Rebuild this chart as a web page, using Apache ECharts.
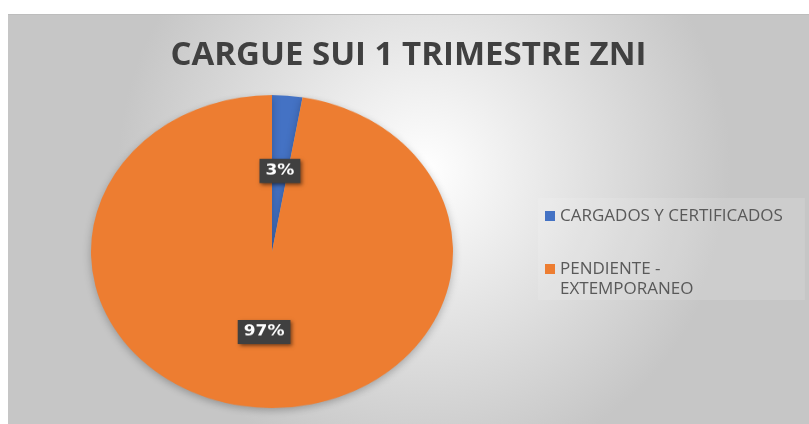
<!DOCTYPE html>
<html>
<head>
<meta charset="utf-8">
<script src="https://cdn.jsdelivr.net/npm/echarts@6/dist/echarts.min.js"></script>
<style>
  html, body { margin: 0; padding: 0; background: #fff; }
  #frame { position: absolute; left: 8px; top: 14px; width: 801px; height: 410px; border-top: 1px solid #bdbdbd; box-sizing: border-box; }
  #pie { position: absolute; left: 0; top: 0; width: 809px; height: 490px; transform: scaleY(0.8646); transform-origin: 0 0; }
</style>
</head>
<body>
<div id="frame"></div>
<div id="pie"></div>
<script>
var titleText = 'CARGUE SUI 1 TRIMESTRE ZNI'
var categories = ['CARGADOS Y CERTIFICADOS', 'PENDIENTE - EXTEMPORANEO']
var values = [1, 36]
var colors = ['#4472C4', '#ED7D31']

var pieData = categories.map(function (name, i) {
    return { name: name, value: values[i], itemStyle: { color: colors[i] } }
})

// fondo, titulo y leyenda
const frameChart = echarts.init(document.getElementById('frame'))
frameChart.setOption({
    backgroundColor: {
        type: 'radial', x: 0.52, y: 0.38, r: 0.75,
        colorStops: [{ offset: 0, color: '#ffffff' }, { offset: 1, color: '#c6c6c6' }]
    },
    title: {
        text: titleText,
        left: 'center',
        top: 19,
        textStyle: { fontFamily: 'Open Sans', fontWeight: 'bold', fontSize: 33, color: '#404040' }
    },
    legend: {
        orient: 'vertical',
        left: 530,
        top: 183,
        padding: [8, 22, 1, 7],
        backgroundColor: 'rgba(255,255,255,0.12)',
        icon: 'rect',
        itemWidth: 10,
        itemHeight: 10,
        itemGap: 13,
        data: categories,
        formatter: function (name) {
            // el segundo nombre va partido en dos renglones, el primero alineado con el cuadrito
            return name.indexOf(' - ') > 0 ? '\n' + name.replace(' - ', ' -\n') : name
        },
        textStyle: { fontFamily: 'Open Sans', fontSize: 17, color: '#595959', lineHeight: 20 }
    },
    series: [{
        type: 'pie',
        radius: [0, 0],
        silent: true,
        label: { show: false },
        data: pieData
    }]
})

// la torta, estirada en elipse como en la imagen
const pieChart = echarts.init(document.getElementById('pie'))
pieChart.setOption({
    series: [{
        type: 'pie',
        center: [272, 290.9],
        radius: 181,
        startAngle: 90,
        clockwise: true,
        percentPrecision: 0,
        itemStyle: { shadowColor: 'rgba(0,0,0,0.25)', shadowBlur: 8, shadowOffsetY: 3 },
        label: {
            position: 'inside',
            formatter: '{d}%',
            color: '#ffffff',
            fontFamily: 'DejaVu Sans',
            fontWeight: 'bold',
            fontSize: 17,
            backgroundColor: '#404040',
            padding: [6, 6, 5, 6],
            shadowColor: 'rgba(0,0,0,0.5)',
            shadowBlur: 4,
            shadowOffsetX: 2,
            shadowOffsetY: 2
        },
        labelLine: { show: false },
        data: pieData
    }]
})
</script>
</body>
</html>
